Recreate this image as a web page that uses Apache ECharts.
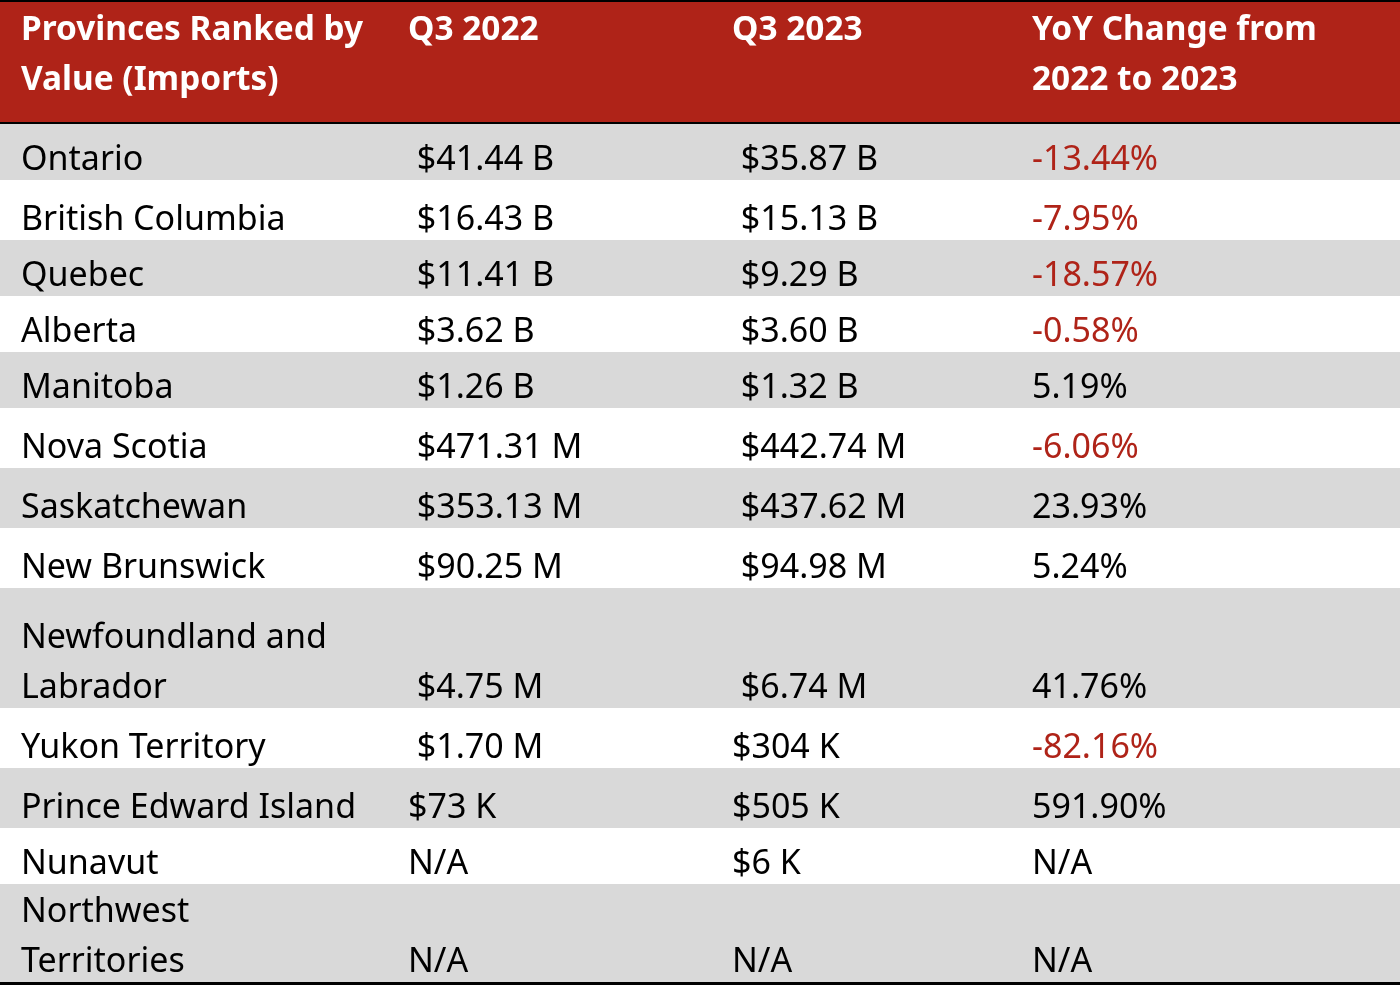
<!DOCTYPE html>
<html>
<head>
<meta charset="utf-8">
<style>
  html, body { margin: 0; padding: 0; background: #ffffff; }
  #chart { width: 1400px; height: 986px; }
</style>
<script src="https://cdn.jsdelivr.net/npm/echarts@6/dist/echarts.min.js"></script>
</head>
<body>
<div id="chart"></div>
<script>
// ---- data ----
const headers = ['Provinces Ranked by\nValue (Imports)', 'Q3 2022', 'Q3 2023', 'YoY Change from\n2022 to 2023'];
const provinces = ['Ontario', 'British Columbia', 'Quebec', 'Alberta', 'Manitoba', 'Nova Scotia', 'Saskatchewan',
  'New Brunswick', 'Newfoundland and\nLabrador', 'Yukon Territory', 'Prince Edward Island', 'Nunavut', 'Northwest\nTerritories'];
const q3_2022 = [' $41.44 B', ' $16.43 B', ' $11.41 B', ' $3.62 B', ' $1.26 B', ' $471.31 M', ' $353.13 M',
  ' $90.25 M', ' $4.75 M', ' $1.70 M', '$73 K', 'N/A', 'N/A'];
const q3_2023 = [' $35.87 B', ' $15.13 B', ' $9.29 B', ' $3.60 B', ' $1.32 B', ' $442.74 M', ' $437.62 M',
  ' $94.98 M', ' $6.74 M', '$304 K', '$505 K', '$6 K', 'N/A'];
const yoyChange = ['-13.44%', '-7.95%', '-18.57%', '-0.58%', '5.19%', '-6.06%', '23.93%',
  '5.24%', '41.76%', '-82.16%', '591.90%', 'N/A', 'N/A'];

// ---- layout (styles / sizes, not data) ----
const W = 1400, H = 986;
const TOP_LINE = 2, HEADER_H = 120, HEADER_LINE = 2;
const ROW_H = [56, 60, 56, 56, 56, 60, 60, 60, 120, 60, 60, 56, 98];
const COL_X = [21, 408, 732, 1032];
const FONT = '"Noto Sans", "Open Sans", sans-serif';
const FS = 34, FS_BOLD = 33.4, LH = 50;
const RED = '#AF2318', GRAY = '#D9D9D9';

const columns = [provinces, q3_2022, q3_2023, yoyChange];

// build row extents
const rowData = [];
let y = TOP_LINE + HEADER_H + HEADER_LINE;
for (let i = 0; i < provinces.length; i++) {
  rowData.push([0, y, y + ROW_H[i], i]);
  y += ROW_H[i];
}

const chart = echarts.init(document.getElementById('chart'), null, { renderer: 'canvas' });

function textEl(str, px, py, color, bold, vAlign) {
  const fs = bold ? FS_BOLD : FS;
  return {
    type: 'text',
    style: {
      text: str, x: px, y: py, fill: color,
      font: (bold ? 'bold ' : '') + fs + 'px ' + FONT,
      fontSize: fs, fontFamily: FONT, fontWeight: bold ? 'bold' : 'normal',
      lineHeight: LH, align: 'left', verticalAlign: vAlign
    },
    silent: true
  };
}

chart.setOption({
  animation: false,
  grid: { left: 0, right: 0, top: 0, bottom: 0 },
  xAxis: { type: 'value', min: 0, max: W, show: false },
  yAxis: { type: 'value', min: 0, max: H, inverse: true, show: false },
  series: [
    {
      type: 'custom',
      silent: true,
      data: [[0, 0, TOP_LINE + HEADER_H + HEADER_LINE, -1]],
      encode: { x: 0, y: [1, 2] },
      renderItem: function (params, api) {
        const p0 = api.coord([0, api.value(1)]);
        const p1 = api.coord([W, api.value(2)]);
        const lineY = api.coord([0, TOP_LINE + HEADER_H]);
        const hTop = api.coord([0, TOP_LINE]);
        const children = [
          { type: 'rect', shape: { x: p0[0], y: p0[1], width: p1[0] - p0[0], height: p1[1] - p0[1] }, style: { fill: '#000' } },
          { type: 'rect', shape: { x: p0[0], y: hTop[1], width: p1[0] - p0[0], height: lineY[1] - hTop[1] }, style: { fill: RED } }
        ];
        for (let c = 0; c < headers.length; c++) {
          const cx = api.coord([COL_X[c], 0])[0];
          children.push(textEl(headers[c], cx, hTop[1] + 3, '#ffffff', true, 'top'));
        }
        return { type: 'group', children: children };
      }
    },
    {
      type: 'custom',
      silent: true,
      data: rowData,
      encode: { x: 0, y: [1, 2] },
      renderItem: function (params, api) {
        const i = api.value(3);
        const p0 = api.coord([0, api.value(1)]);
        const p1 = api.coord([W, api.value(2)]);
        const children = [
          { type: 'rect', shape: { x: p0[0], y: p0[1], width: p1[0] - p0[0], height: p1[1] - p0[1] },
            style: { fill: i % 2 === 0 ? GRAY : '#ffffff' } }
        ];
        for (let c = 0; c < columns.length; c++) {
          const str = columns[c][i];
          const cx = api.coord([COL_X[c], 0])[0];
          const color = (c === 3 && str.charAt(0) === '-') ? RED : '#000000';
          children.push(textEl(str, cx, p1[1] + 5, color, false, 'bottom'));
        }
        if (i === provinces.length - 1) {
          children.push({ type: 'rect', shape: { x: p0[0], y: p1[1], width: p1[0] - p0[0], height: 3 }, style: { fill: '#000' } });
        }
        return { type: 'group', children: children };
      }
    }
  ]
});
</script>
</body>
</html>
